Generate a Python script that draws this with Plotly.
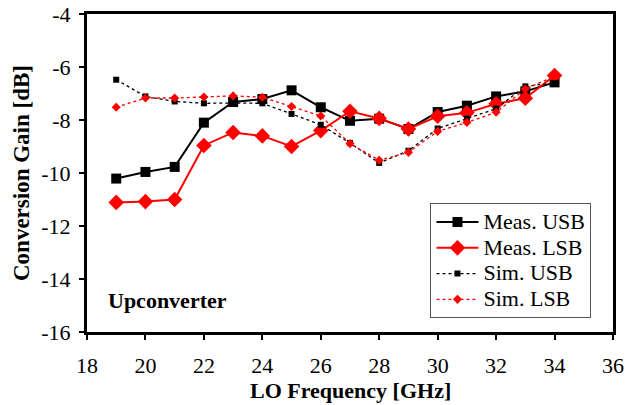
import plotly.graph_objects as go

freq = [19, 20, 21, 22, 23, 24, 25, 26, 27, 28, 29, 30, 31, 32, 33, 34]
meas_usb = [-10.21, -9.96, -9.77, -8.10, -7.32, -7.21, -6.88, -7.52, -8.03, -7.95, -8.34, -7.70, -7.46, -7.11, -6.92, -6.58]
meas_lsb = [-11.11, -11.08, -11.00, -8.96, -8.47, -8.60, -9.00, -8.40, -7.67, -7.94, -8.34, -7.86, -7.73, -7.39, -7.18, -6.32]
sim_usb = [-6.48, -7.11, -7.30, -7.37, -7.36, -7.37, -7.77, -8.18, -8.87, -9.62, -9.16, -8.32, -7.95, -7.57, -6.73, -6.60]
sim_lsb = [-7.52, -7.17, -7.17, -7.13, -7.09, -7.14, -7.49, -7.85, -8.89, -9.52, -9.22, -8.43, -8.09, -7.71, -6.83, -6.35]
series_names = ["Meas. USB", "Meas. LSB", "Sim. USB", "Sim. LSB"]

x_ticks = [18, 20, 22, 24, 26, 28, 30, 32, 34, 36]
x_ticktext = ["18", "20", "22", "24", "26", "28", "30", "32", "34", "36"]
y_ticks = [-16, -14, -12, -10, -8, -6, -4]
y_ticktext = ["-16", "-14", "-12", "-10", "-8", "-6", "-4"]

FONT = "Liberation Serif"


def legend_label(name):
    return '<span style="font-size:22px">%s</span>' % name


fig = go.Figure()
fig.add_trace(go.Scatter(x=freq, y=meas_usb, name=legend_label(series_names[0]), mode="lines+markers",
                         line=dict(color="black", width=2),
                         marker=dict(symbol="square", size=10, color="black")))
fig.add_trace(go.Scatter(x=freq, y=meas_lsb, name=legend_label(series_names[1]), mode="lines+markers",
                         line=dict(color="#ff0000", width=2),
                         marker=dict(symbol="diamond", size=12, color="#ff0000")))
fig.add_trace(go.Scatter(x=freq, y=sim_usb, name=legend_label(series_names[2]), mode="lines+markers",
                         line=dict(color="black", width=1.3, dash="dot"),
                         marker=dict(symbol="square", size=6, color="black")))
fig.add_trace(go.Scatter(x=freq, y=sim_lsb, name=legend_label(series_names[3]), mode="lines+markers",
                         line=dict(color="#ff0000", width=1.3, dash="dot"),
                         marker=dict(symbol="diamond", size=7, color="#ff0000")))

fig.add_annotation(x=18.65, y=-14.8, xref="x", yref="y", text="<b>Upconverter</b>",
                   showarrow=False, xanchor="left", yanchor="middle",
                   font=dict(family=FONT, size=22, color="black"))
fig.add_annotation(x=0.5, y=-0.183, xref="paper", yref="paper", text="<b>LO Frequency [GHz]</b>",
                   showarrow=False, xanchor="center", yanchor="middle",
                   font=dict(family=FONT, size=22, color="black"))

axis_common = dict(showgrid=False, zeroline=False, showline=True, linecolor="black",
                   linewidth=3, mirror=True, ticks="outside", ticklen=5, tickwidth=2,
                   tickcolor="black", automargin=False,
                   tickfont=dict(family=FONT, size=22, color="black"))

fig.update_xaxes(range=[18, 36], tickvals=x_ticks, ticktext=x_ticktext,
                 ticklabelstandoff=7, **axis_common)
fig.update_yaxes(range=[-16, -4], tickvals=y_ticks, ticktext=y_ticktext,
                 title=dict(text="<b>Conversion Gain [dB]</b>", font=dict(family=FONT, size=23, color="black"),
                            standoff=6),
                 ticklabelstandoff=4, **axis_common)

fig.update_layout(
    width=626, height=405,
    margin=dict(l=87, r=13, t=14, b=73),
    plot_bgcolor="white", paper_bgcolor="white",
    font=dict(family=FONT, color="black"),
    legend=dict(x=0.653, y=0.405, xanchor="left", yanchor="top",
                bgcolor="white", bordercolor="#555555", borderwidth=1,
                font=dict(family=FONT, size=17.5, color="black"),
                tracegroupgap=0, itemwidth=42),
    showlegend=True,
)

fig.write_html("out.html", config={"displayModeBar": False},
               post_script="document.body.style.margin='0';document.body.style.overflow='hidden';")
